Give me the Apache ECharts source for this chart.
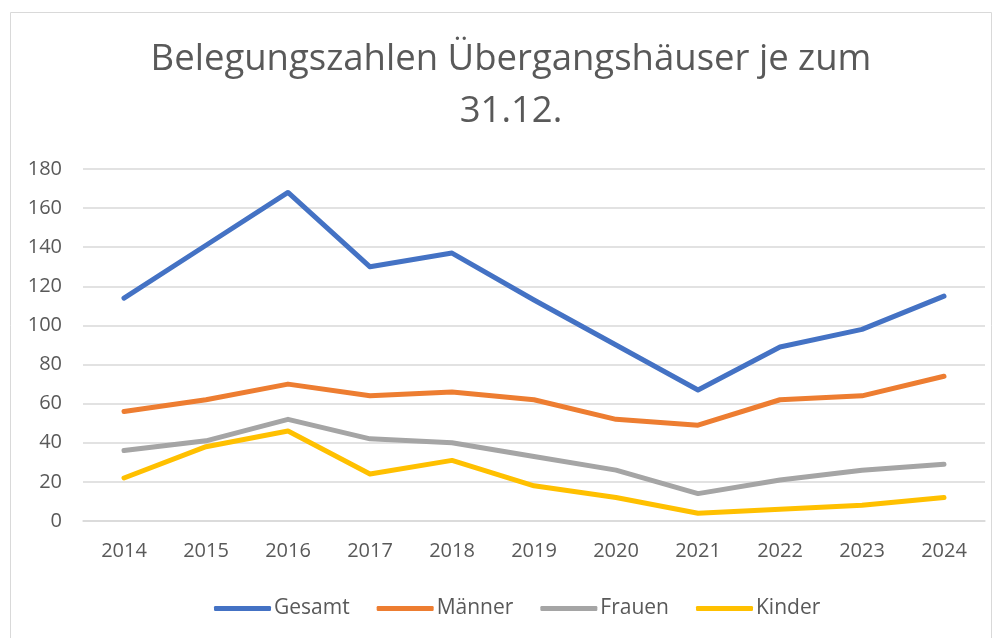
<!DOCTYPE html>
<html><head><meta charset="utf-8">
<script src="https://cdn.jsdelivr.net/npm/echarts@6/dist/echarts.min.js"></script>
<style>html,body{margin:0;padding:0;background:#fff}#c{width:1000px;height:638px}</style>
</head><body><div id="c"></div>
<script>
const years = ['2014','2015','2016','2017','2018','2019','2020','2021','2022','2023','2024'];
const gesamt = [114, 141, 168, 130, 137, 113, 90, 67, 89, 98, 115];
const maenner = [56, 62, 70, 64, 66, 62, 52, 49, 62, 64, 74];
const frauen = [36, 41, 52, 42, 40, 33, 26, 14, 21, 26, 29];
const kinder = [22, 38, 46, 24, 31, 18, 12, 4, 6, 8, 12];
const seriesNames = ['Gesamt','Männer','Frauen','Kinder'];
const titleText = 'Belegungszahlen Übergangshäuser je zum\n31.12.';
const colors = ['#4472C4','#ED7D31','#A5A5A5','#FFC000'];
const FONT = '"Open Sans", "Liberation Sans", sans-serif';
const chart = echarts.init(document.getElementById('c'));
const mk = (name, data, i) => ({
  name, type:'line', data, symbol:'none', smooth:false,
  lineStyle:{width:5, color:colors[i], cap:'round', join:'round'},
  itemStyle:{color:colors[i]}
});
chart.setOption({
  animation:false,
  graphic:[
    {type:'rect', shape:{x:10.5,y:12.5,width:981,height:640}, style:{fill:'none', stroke:'#d9d9d9', lineWidth:1}},
    {type:'text', x:511, y:34, style:{text:titleText, align:'center', verticalAlign:'top',
      fontFamily:FONT, fontSize:36.5, fill:'#595959', lineHeight:52}}
  ],
  grid:{left:83, right:15, top:169, bottom:117},
  xAxis:{type:'category', data:years, boundaryGap:true,
    axisLine:{show:true, lineStyle:{color:'#d9d9d9', width:1.5}}, axisTick:{show:false},
    axisLabel:{fontFamily:FONT, fontSize:20, color:'#595959', margin:20}},
  yAxis:{type:'value', min:0, max:180, interval:20,
    axisLine:{show:false}, axisTick:{show:false},
    splitLine:{lineStyle:{color:'#d9d9d9', width:1.5}},
    axisLabel:{fontFamily:FONT, fontSize:20, color:'#595959', margin:21}},
  legend:{top:593, left:209, itemWidth:57, itemHeight:5, itemGap:27, icon:'roundRect',
    textStyle:{fontFamily:FONT, fontSize:21, color:'#595959', padding:[0,0,0,-2]},
    data:seriesNames},
  series:[mk('Gesamt',gesamt,0), mk('Männer',maenner,1), mk('Frauen',frauen,2), mk('Kinder',kinder,3)]
});
</script></body></html>
